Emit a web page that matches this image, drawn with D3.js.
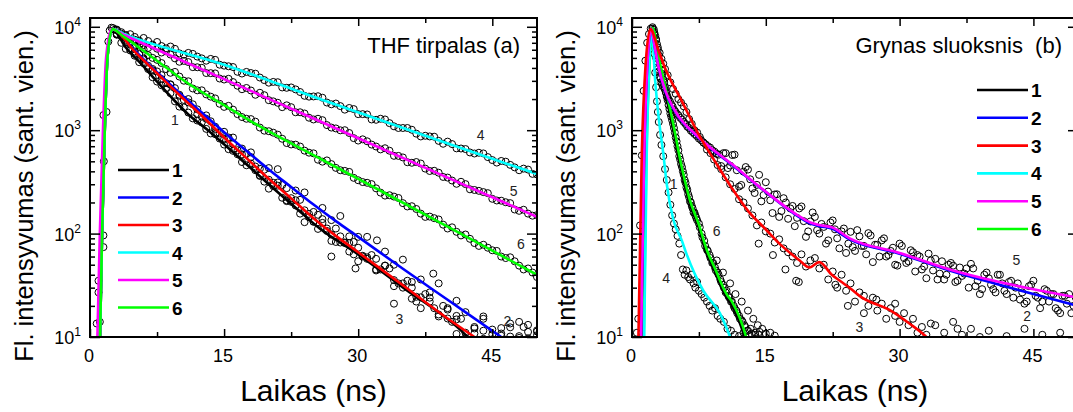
<!DOCTYPE html>
<html>
<head>
<meta charset="utf-8">
<script src="https://cdn.jsdelivr.net/npm/d3@7"></script>
<style>
body { margin: 0; background: #fff; }
svg { font-family: Arial, "Liberation Sans", sans-serif; }
</style>
</head>
<body>
<script>
// Fluorescence decay curves, two panels, log intensity vs time (ns)
var series = ["1", "2", "3", "4", "5", "6"];
var colors = ["#000000", "#0000ff", "#ff0000", "#00ffff", "#ff00ff", "#00ff00"];
var xTicks = [0, 15, 30, 45];
var xMinor = [7.5, 22.5, 37.5];
var yTicks = [10, 100, 1000, 10000];
var yExp = ["1", "2", "3", "4"];
var yMinor = [20, 30, 40, 50, 60, 70, 80, 90, 200, 300, 400, 500, 600, 700, 800, 900,
              2000, 3000, 4000, 5000, 6000, 7000, 8000, 9000];

// ---- panel (a): THF tirpalas ----
var tA = [3, 4, 5, 6, 7, 8, 9, 10, 11, 12, 13, 14, 15, 16, 17, 18, 19, 20, 21, 22, 23, 24, 25, 26,
          27, 28, 29, 30, 31, 32, 33, 34, 35, 36, 37, 38, 39, 40, 41, 42, 43, 44, 45, 46, 47, 48, 49, 50];
var tAh = [3.5, 4.5, 5.5, 6.5, 7.5, 8.5, 9.5, 10.5, 11.5, 12.5, 13.5, 14.5, 15.5, 16.5, 17.5, 18.5, 19.5,
           20.5, 21.5, 22.5, 23.5, 24.5, 25.5, 26.5, 27.5, 28.5, 29.5, 30.5, 31.5, 32.5, 33.5, 34.5, 35.5,
           36.5, 37.5, 38.5, 39.5, 40.5, 41.5, 42.5, 43.5, 44.5, 45.5, 46.5, 47.5, 48.5, 49.5];
var a1 = [8550, 6120, 5250, 4450, 3250, 2720, 2280, 1690, 1480, 1240, 1030, 915, 726, 631, 492, 476,
          361, 272, 291, 206, 187, 129, 130, 127, 85, 82, 81, 54, 59, 45, 49, 31, 30, 30, 19, 22, 16.5,
          18.4, 10.7, 11, 12.5, 9.6, 11.8, 10.3, 13.5, 9.8, 11.2, 10.4];
var a2 = [8370, 7490, 5770, 4950, 3800, 3410, 2750, 2200, 2000, 1590, 1390, 1080, 965, 849, 664, 610,
          423, 430, 420, 275, 261, 250, 162, 177, 135, 148, 94, 93, 93, 57, 67, 50, 56, 34, 36, 27, 33,
          19, 22.4, 17.4, 12.1, 15.8, 10.6, 10.8, 12.4, 10.2, 13.1, 11.3];
var a3 = [8500, 7310, 5460, 4830, 3910, 3120, 2780, 2150, 1860, 1430, 1290, 1030, 817, 736, 583, 549,
          366, 332, 312, 210, 210, 168, 131, 138, 98, 94, 67, 73, 57, 44, 49, 35.5, 33, 23.5, 24.2, 24,
          15.8, 15.1, 14.8, 9.8, 10.8, 11.5, 9.5, 12.2, 10.1, 14, 9.7, 11.6];
var a4 = [9390, 8150, 7980, 7800, 6720, 6510, 6440, 5530, 5590, 5150, 4700, 4790, 4210, 4080, 3530,
          3570, 3230, 2880, 2910, 2570, 2480, 2150, 2120, 2060, 1780, 1710, 1640, 1430, 1420, 1260, 1270,
          1090, 1050, 1010, 870, 870, 788, 775, 667, 657, 595, 596, 514, 504, 462, 410, 416, 373];
var a5 = [8460, 8340, 7500, 6660, 6600, 5640, 5390, 4590, 4560, 4060, 3570, 3540, 3090, 2920, 2490,
          2420, 2300, 1950, 1840, 1740, 1490, 1450, 1270, 1250, 1060, 997, 939, 794, 781, 695, 669, 565,
          545, 484, 476, 403, 388, 348, 303, 301, 264, 252, 217, 208, 197, 166, 156, 151];
var a6 = [9270, 7780, 6460, 6050, 5000, 4460, 3590, 3300, 2970, 2430, 2220, 2030, 1680, 1580, 1340,
          1280, 1060, 977, 905, 751, 725, 634, 597, 496, 470, 410, 395, 328, 310, 274, 233, 228, 197, 184,
          156, 146, 137, 112, 104, 98, 81, 78, 69, 60, 59, 49, 46, 38];
// half-step readings (t = 3.5 ... 49.5)
var a4h = [8580, 8480, 7350, 7280, 7130, 6190, 6120, 5370, 5470, 4950, 4890, 4300, 4150, 3670, 3660, 3520,
           3050, 2930, 2590, 2590, 2340, 2110, 2130, 1850, 1810, 1580, 1600, 1430, 1270, 1290, 1170, 1050,
           1050, 926, 883, 865, 739, 734, 665, 609, 605, 549, 486, 496, 437, 425, 378];
var a5h = [8870, 7600, 7180, 6240, 6140, 5790, 4950, 4680, 4070, 4010, 3560, 3160, 3140, 2690, 2560, 2200,
           2180, 1900, 1670, 1670, 1490, 1320, 1290, 1120, 1040, 1000, 838, 816, 726, 652, 633, 564, 490,
           492, 425, 405, 353, 326, 317, 268, 259, 246, 209, 201, 171, 170, 149];
var a6h = [8370, 7020, 6570, 5310, 4790, 3900, 3660, 3010, 2530, 2430, 2110, 1800, 1720, 1430, 1290, 1210,
           989, 946, 826, 728, 695, 606, 518, 510, 432, 404, 346, 315, 301, 249, 235, 221, 183, 173, 145,
           141, 122, 115, 96, 89, 76, 73, 68, 58, 54, 45, 42];
var a1h = [[3.5, 7000], [4.5, 5900], [5.5, 4550], [6.5, 3900], [7.5, 2950], [8.5, 2520], [9.5, 1900], [10.5, 1660],
           [11.5, 1300], [12.5, 1190], [13.5, 930], [14.5, 830], [15.5, 655], [16.5, 585], [17.5, 458], [18.5, 410],
           [19.5, 318], [20.5, 288], [21.5, 222], [22.5, 203], [23.5, 156], [24.5, 144], [25.5, 111], [26.5, 106],
           [27.5, 83], [28.5, 81], [29.5, 63], [30.5, 61]];
var a23h = [[3.5, 8100], [4.5, 6200], [5.5, 5450], [6.5, 4200], [7.5, 3700], [8.5, 2850], [9.5, 2550], [10.5, 1960],
            [11.5, 1780], [12.5, 1350], [13.5, 1220], [14.5, 930], [15.5, 850], [16.5, 640], [17.5, 590], [18.5, 445],
            [19.5, 415], [20.5, 310], [21.5, 295], [22.5, 220], [23.5, 212], [24.5, 155], [25.5, 152], [26.5, 112],
            [27.5, 112], [28.5, 82], [29.5, 83], [30.5, 60], [31.5, 62], [32.5, 45], [33.5, 46], [34.5, 33],
            [35.5, 35], [36.5, 24.5], [37.5, 26], [38.5, 19], [39.5, 20], [40.5, 14], [41.5, 15]];
var extraA = [[32.1, 86], [38.4, 41], [29.7, 46], [44, 15], [48.5, 12.5], [36.5, 22], [41, 16], [27, 60], [34, 21]];
var riseA = [[0.75, 13.5], [1.1, 14], [0.95, 27], [0.95, 35], [1.5, 74], [1.5, 96], [1.55, 500], [1.5, 1400],
             [1.85, 1500], [2.05, 7200], [2.2, 9200], [2.4, 9800], [2.6, 9700], [2.8, 9400]];

var fitA1 = [[1.1, 8], [1.35, 100], [1.65, 1000], [1.95, 5000], [2.5, 9500], [4, 6310], [5.6, 4500], [7.5, 2950],
             [9.33, 1980], [11, 1420], [13.06, 1020], [15, 730], [16.8, 530], [20.5, 275], [23, 178], [25.7, 112],
             [30, 63], [35, 30.2], [42, 10.5], [43, 8.5]];
var fitA2 = [[1.1, 8], [1.35, 100], [1.65, 1000], [1.95, 5000], [2.5, 9500], [5, 5890], [7.5, 3630], [10, 2290],
             [12.5, 1480], [15, 955], [17.5, 631], [20, 417], [22.5, 282], [25, 191], [27.5, 132], [30, 93],
             [35, 45.7], [40, 22.9], [46, 10], [47, 8.7]];
var fitA3 = [[1.1, 8], [1.35, 100], [1.65, 1000], [1.95, 5000], [2.5, 9500], [5, 5750], [7.5, 3550], [10, 2190],
             [12.5, 1380], [15, 851], [17.5, 537], [20, 339], [22.5, 219], [25, 141], [27.5, 95], [30, 66],
             [35, 31.6], [40, 15.1], [43, 10], [44, 8.7]];
var fitA4 = [[1.1, 8], [1.35, 100], [1.65, 1000], [1.95, 5000], [2.5, 9500], [4, 8400], [15, 4300], [25.7, 2000],
             [38.4, 830], [50, 377]];
var fitA5 = [[0.8, 8], [1.1, 100], [1.45, 1000], [1.8, 5000], [2.4, 9500], [4, 8180], [10, 4830], [20, 2010],
             [30, 836], [40, 348], [50, 145]];
var fitA6 = [[1.1, 8], [1.35, 100], [1.65, 1000], [1.95, 5000], [2.5, 9500], [3.73, 8090], [7, 5050], [11.2, 2750],
             [15, 1750], [18.66, 1130], [25, 574], [30, 338], [40, 117], [50, 40]];
var labelsA = [["1", 9.5, 1260], ["4", 43.7, 890], ["5", 47.4, 257], ["6", 48.2, 79], ["3", 34.6, 15], ["2", 46.7, 14.3]];

// ---- panel (b): Grynas sluoksnis ----
var b1 = [[2.5, 8800], [2.7, 7600], [2.9, 6000], [3.1, 4700], [3.3, 3800], [3.5, 3100], [3.7, 2600], [3.9, 2100],
          [4.1, 1750], [4.3, 1450], [4.5, 1250], [4.7, 1050], [4.9, 850], [5.1, 700], [5.3, 560], [5.5, 470],
          [5.7, 400], [5.9, 330], [6.1, 280], [6.3, 240], [6.5, 205], [6.7, 185], [6.9, 160], [7.1, 150], [7.3, 135],
          [7.6, 115], [7.9, 92], [8.2, 76], [8.5, 68], [8.8, 58], [9.1, 52], [9.4, 44], [9.7, 40], [10.0, 34],
          [10.3, 30], [10.6, 28], [10.9, 24], [11.2, 22], [11.5, 19], [11.8, 17], [12.1, 15], [12.4, 14],
          [12.7, 12.5], [13, 11.5], [13.4, 10.8], [13.8, 11], [14.2, 10.5], [9.5, 55], [10.2, 42], [11.0, 33],
          [11.6, 26], [12.3, 22], [13.0, 18], [13.6, 15], [14.1, 13], [14.6, 12], [15, 10.8]];
var b2 = [[2.5, 7000], [2.7, 5000], [2.9, 3900], [3.1, 3300], [3.3, 2900], [3.5, 2650], [3.8, 2300], [4.1, 2000],
          [4.4, 1780], [4.7, 1580], [5.0, 1450], [5.4, 1320], [5.8, 1200], [6.2, 1080], [6.6, 990], [7.0, 920],
          [7.5, 830], [8.0, 760], [8.5, 700], [9.0, 640], [9.5, 590],
          [10, 450], [10.5, 600], [11, 455], [11.5, 580], [12, 285], [12.5, 397], [13, 416], [13.5, 273], [14, 296],
          [14.5, 205], [15, 314], [15.5, 210], [16, 239], [16.5, 145], [17, 220], [17.5, 139], [18, 185], [18.5, 142],
          [19, 183], [19.5, 93], [20, 131], [20.5, 145], [21, 100], [21.5, 116], [22, 86], [22.5, 134], [23, 90],
          [23.5, 105], [24, 65], [24.5, 104], [25, 68], [25.5, 94], [26, 76], [26.5, 101], [27, 53], [27.5, 78],
          [28, 86], [28.5, 60], [29, 68], [29.5, 50], [30, 80], [30.5, 58], [31, 54], [31.5, 66], [32, 62], [32.5, 45],
          [33, 37], [33.5, 55], [34, 57], [34.5, 41], [35, 36], [35.5, 50], [36, 49], [36.5, 35], [37, 39], [37.5, 46],
          [38, 51], [38.5, 31], [39, 26], [39.5, 40], [40, 37], [40.5, 29], [41, 40], [41.5, 33], [42, 26], [42.5, 35],
          [43, 30], [43.5, 23], [44, 21], [44.5, 31], [45, 35], [45.5, 24], [46, 22], [46.5, 28], [47, 26], [47.5, 19],
          [48, 17], [48.5, 25], [49, 26], [49.5, 20]];
var b3 = [[2.3, 9600], [2.5, 8500], [2.7, 7400], [2.9, 6300], [3.1, 5600], [3.3, 4900], [3.5, 4400], [3.7, 3900],
          [4.0, 3400], [4.3, 2900], [4.6, 2500], [4.9, 2250], [5.2, 2000], [5.5, 1850], [5.8, 1700], [6.1, 1500],
          [6.4, 1280], [6.7, 1150], [7.0, 1000], [7.3, 950], [7.6, 860], [8.0, 760], [8.4, 650], [8.8, 600],
          [9.2, 520], [9.6, 460], [10, 420], [10.5, 350], [11, 300], [11.5, 270], [12, 215], [12.5, 200], [13, 175],
          [13.5, 150], [14, 120], [14.5, 128], [15, 105], [15.5, 100], [16, 82], [16.5, 88], [17, 72], [17.5, 66],
          [18, 60], [18.5, 52], [19, 63], [19.5, 48], [20, 55], [20.5, 58], [21, 46], [21.5, 50], [22, 36], [22.5, 43],
          [23, 30], [23.5, 40], [24, 28], [24.5, 33], [25, 22], [25.5, 27], [26, 25], [26.5, 20], [27, 24], [27.5, 18],
          [28, 21], [28.5, 15], [29, 19], [29.5, 16], [30, 14], [30.5, 17], [31, 13], [31.5, 15], [32, 11],
          [32.5, 12.5], [33, 10.5], [34, 13], [35, 11], [36, 14], [37, 10.5], [38, 12], [39, 10], [40, 11.5],
          [42, 10.2], [44, 12], [46, 10.5], [48, 11], [18.7, 34], [22.8, 32], [18.4, 35], [17.2, 45], [15.8, 62],
          [14.2, 80], [24.2, 20], [26, 17], [27.4, 23], [29.5, 21], [33.5, 13.5], [36.5, 12]];
var b4 = [[2.4, 8000], [2.5, 5500], [2.6, 3600], [2.7, 2600], [2.8, 1900], [2.9, 1500], [3.0, 1200], [3.15, 900],
          [3.3, 720], [3.5, 560], [3.7, 420], [3.9, 330], [4.1, 250], [4.3, 190], [4.5, 150], [4.7, 125], [4.9, 110],
          [5.1, 95], [5.3, 80], [5.5, 62], [5.7, 45], [5.9, 40], [6.1, 44], [6.3, 38], [6.5, 36], [6.7, 40], [6.9, 33],
          [7.1, 30], [7.3, 34], [7.5, 28], [7.8, 26], [8.1, 24], [8.4, 22], [8.7, 20], [9.0, 18], [9.3, 19],
          [9.6, 16], [9.9, 15], [10.3, 14], [10.7, 12], [11.1, 11.5], [11.5, 10.5], [12, 10.2], [12.5, 11], [13.2, 10.4]];
var b5 = [[2.6, 6200], [2.8, 4600], [3.0, 3700], [3.2, 3150], [3.4, 2800], [3.65, 2500], [3.95, 2150], [4.25, 1900],
          [4.55, 1700], [4.85, 1520], [5.2, 1400], [5.6, 1270], [6.0, 1150], [6.4, 1050], [6.8, 960], [7.25, 880],
          [7.75, 800], [8.25, 730], [8.75, 680], [9.25, 620], [9.75, 580],
          [10.25, 600], [10.75, 430], [11.25, 575], [11.75, 410], [12.25, 295], [12.75, 440], [13.25, 335],
          [13.75, 247], [14.25, 370], [14.75, 236], [15.25, 255], [15.75, 158], [16.25, 240], [16.75, 165],
          [17.25, 200], [17.75, 175], [18.25, 118], [18.75, 175], [19.25, 132], [19.75, 105], [20.25, 160],
          [20.75, 108], [21.25, 124], [21.75, 80], [22.25, 128], [22.75, 110], [23.25, 72], [23.75, 112],
          [24.25, 80], [24.75, 74], [25.25, 108], [25.75, 76], [26.25, 63], [26.75, 96], [27.25, 78], [27.75, 60],
          [28.25, 90], [28.75, 62], [29.25, 73], [29.75, 49], [30.25, 76], [30.75, 52], [31.25, 69], [31.75, 43],
          [32.25, 60], [32.75, 48], [33.25, 64], [33.75, 44], [34.25, 36], [34.75, 54], [35.25, 40], [35.75, 52],
          [36.25, 34], [36.75, 47], [37.25, 41], [37.75, 30], [38.25, 46], [38.75, 35], [39.25, 29], [39.75, 42],
          [40.25, 32], [40.75, 27], [41.25, 40], [41.75, 28], [42.25, 34], [42.75, 24], [43.25, 33], [43.75, 27],
          [44.25, 22], [44.75, 32], [45.25, 25], [45.75, 19], [46.25, 29], [46.75, 22], [47.25, 26], [47.75, 18],
          [48.25, 25], [48.75, 21], [49.25, 17], [49.75, 24]];
var b6 = [[2.6, 8200], [2.8, 6800], [3.0, 5300], [3.2, 4300], [3.4, 3500], [3.6, 2900], [3.8, 2350], [4.0, 1950],
          [4.2, 1600], [4.4, 1350], [4.6, 1150], [4.8, 950], [5.0, 780], [5.2, 640], [5.4, 520], [5.6, 440],
          [5.8, 370], [6.0, 310], [6.2, 265], [6.4, 225], [6.6, 200], [6.8, 175], [7.0, 160], [7.2, 142], [7.5, 125],
          [7.8, 100], [8.1, 85], [8.4, 70], [8.7, 62], [9.0, 52], [9.3, 47], [9.6, 42], [9.9, 36], [10.2, 32],
          [10.5, 27], [10.8, 25], [11.1, 22], [11.4, 20], [11.7, 18], [12.0, 16], [12.3, 14.5], [12.6, 13],
          [12.9, 11.5], [13.3, 12], [13.8, 10.5], [14.3, 11.2], [15.5, 11], [16, 10.3]];
var riseB = [[0.55, 11], [0.7, 15], [0.9, 120], [1.1, 570], [1.3, 2400], [1.5, 4700], [1.7, 7000], [1.9, 8500],
             [2.1, 9600], [2.3, 9900], [2.45, 9400]];

var fitB1 = [[1.25, 8], [1.55, 500], [1.85, 4000], [2.2, 9500], [2.9, 5000], [3.6, 2600], [4.4, 1250], [5.5, 420],
             [6.4, 205], [7.4, 120], [8.3, 67], [9.2, 45], [10.5, 25], [11.1, 21], [12.6, 10], [12.9, 8]];
var fitB2 = [[1.0, 8], [1.35, 500], [1.7, 4000], [2.15, 9500], [2.6, 6000], [3.0, 4000], [3.7, 2400], [4.85, 1500],
             [7.5, 840], [11.2, 463], [14.9, 256], [18.7, 145], [20, 125], [21, 118], [22.4, 112], [24.4, 88],
             [30, 64], [35.6, 44], [41.2, 32], [45, 26], [50, 20]];
var fitB3 = [[0.7, 8], [1.1, 600], [1.5, 4000], [2.05, 9500], [3.0, 5800], [3.7, 4000], [5.6, 1900], [7.5, 900],
             [9.3, 500], [11.2, 275], [13.1, 162], [14.9, 112], [16.8, 76], [18.8, 55], [19.9, 47], [21, 53],
             [22.4, 40], [23.3, 35], [24.6, 29], [25.5, 25], [29, 18], [31.1, 13.5], [33, 10], [33.5, 9]];
var fitB4 = [[1.35, 8], [1.65, 600], [1.95, 4500], [2.2, 9500], [2.6, 3000], [3.0, 1300], [3.5, 600], [3.9, 300],
             [4.6, 140], [5.6, 85], [6.1, 64], [8.0, 28], [9.85, 17], [11, 10], [11.3, 8.5]];
var fitB5 = [[1.0, 8], [1.35, 500], [1.7, 4000], [2.15, 9500], [2.6, 6000], [3.0, 4000], [3.7, 2450], [4.85, 1530],
             [7.5, 850], [11.2, 470], [14.9, 258], [18.7, 148], [20, 128], [21, 121], [22.4, 115], [24.4, 90],
             [30, 65], [35.6, 45], [41.2, 34], [45, 29], [50, 24]];
var fitB6 = [[1.3, 8], [1.6, 500], [1.95, 4000], [2.3, 9700], [3.0, 5000], [3.7, 2700], [4.5, 1300], [5.6, 430],
             [6.5, 210], [7.5, 122], [8.4, 69], [9.3, 46], [10.6, 26], [11.2, 22], [12.8, 10], [13.1, 8]];
var labelsB = [["1", 4.67, 302], ["6", 9.5, 105], ["4", 3.84, 37.6], ["5", 43.1, 55], ["2", 44.3, 16], ["3", 25.5, 12.5]];

var W = 1073, H = 412;
var yTop = 18, yBot = 337;

var svg = d3.select("body").append("svg")
    .attr("width", W)
    .attr("height", H);

function zip(ts, vs) {
    return ts.map(function (t, i) { return [t, vs[i]]; });
}

function drawPanel(p) {
    var x = d3.scaleLinear().domain([0, 50]).range([p.left, p.right]);
    var y = d3.scaleLog().domain([10, 12160]).range([yBot, yTop]);
    var g = svg.append("g");

    g.append("clipPath").attr("id", p.id)
        .append("rect")
        .attr("x", p.left).attr("y", yTop)
        .attr("width", p.right - p.left).attr("height", yBot - yTop);
    var plot = g.append("g").attr("clip-path", "url(#" + p.id + ")");

    // measured points
    p.circles.forEach(function (pts) {
        plot.append("g").selectAll("circle")
            .data(pts)
            .join("circle")
            .attr("cx", function (d) { return x(d[0]); })
            .attr("cy", function (d) { return y(d[1]); })
            .attr("r", 3.5)
            .attr("fill", "none")
            .attr("stroke", "#000")
            .attr("stroke-width", 1);
    });

    // fitted curves
    var line = d3.line()
        .x(function (d) { return x(d[0]); })
        .y(function (d) { return y(d[1]); })
        .curve(d3.curveMonotoneX);
    p.order.forEach(function (i) {
        plot.append("path")
            .attr("d", line(p.fits[i]))
            .attr("fill", "none")
            .attr("stroke", colors[i])
            .attr("stroke-width", 2.6);
    });

    // curve numbers
    g.selectAll(".clab").data(p.labels).join("text")
        .attr("x", function (d) { return x(d[1]); })
        .attr("y", function (d) { return y(d[2]) + 5; })
        .attr("text-anchor", "middle")
        .attr("font-size", 14)
        .attr("fill", "#222")
        .text(function (d) { return d[0]; });

    // ticks (inward), major and minor
    function noDomain(s) { s.select(".domain").remove(); s.selectAll("line").attr("stroke-width", 1.5); }
    g.append("g").attr("transform", "translate(0," + yBot + ")")
        .call(d3.axisBottom(x).tickValues(xTicks).tickSize(-8).tickFormat("")).call(noDomain);
    g.append("g").attr("transform", "translate(0," + yBot + ")")
        .call(d3.axisBottom(x).tickValues(xMinor).tickSize(-5).tickFormat("")).call(noDomain);
    g.append("g").attr("transform", "translate(0," + yTop + ")")
        .call(d3.axisTop(x).tickValues(xTicks).tickSize(-8).tickFormat("")).call(noDomain);
    g.append("g").attr("transform", "translate(0," + yTop + ")")
        .call(d3.axisTop(x).tickValues(xMinor).tickSize(-5).tickFormat("")).call(noDomain);
    g.append("g").attr("transform", "translate(" + p.left + ",0)")
        .call(d3.axisLeft(y).tickValues(yTicks).tickSize(-10).tickFormat("")).call(noDomain);
    g.append("g").attr("transform", "translate(" + p.left + ",0)")
        .call(d3.axisLeft(y).tickValues(yMinor).tickSize(-5).tickFormat("")).call(noDomain);
    g.append("g").attr("transform", "translate(" + p.right + ",0)")
        .call(d3.axisRight(y).tickValues(yTicks).tickSize(-10).tickFormat("")).call(noDomain);
    g.append("g").attr("transform", "translate(" + p.right + ",0)")
        .call(d3.axisRight(y).tickValues(yMinor).tickSize(-5).tickFormat("")).call(noDomain);

    // frame
    g.append("rect")
        .attr("x", p.left).attr("y", yTop)
        .attr("width", p.right - p.left).attr("height", yBot - yTop)
        .attr("fill", "none").attr("stroke", "#000").attr("stroke-width", 2);

    // tick labels
    g.selectAll(".xl").data(xTicks).join("text")
        .attr("x", function (d) { return x(d) - 1; })
        .attr("y", 362)
        .attr("text-anchor", "middle")
        .attr("font-size", 18)
        .text(function (d) { return d; });
    var yl = g.selectAll(".yl").data(yTicks).join("text")
        .attr("x", p.left - 9)
        .attr("y", function (d) { return y(d) + 7; })
        .attr("text-anchor", "end")
        .attr("font-size", 18);
    yl.append("tspan").text("10");
    yl.append("tspan").attr("dy", -8).attr("font-size", 12)
        .text(function (d, i) { return yExp[i]; });

    // axis titles
    g.append("text")
        .attr("transform", "translate(" + (p.left - 57) + "," + 196 + ") rotate(-90)")
        .attr("text-anchor", "middle")
        .attr("font-size", 25.5)
        .text("Fl. intensyvumas (sant. vien.)");
    g.append("text")
        .attr("x", (p.left + p.right) / 2)
        .attr("y", 401)
        .attr("text-anchor", "middle")
        .attr("font-size", 30)
        .text("Laikas (ns)");

    // panel title
    g.append("text")
        .attr("x", p.titleX)
        .attr("y", 53)
        .attr("text-anchor", "end")
        .attr("font-size", 22)
        .style("white-space", "pre")
        .text(p.title);

    // legend
    var leg = g.selectAll(".leg").data(series).join("g")
        .attr("transform", function (d, i) { return "translate(" + p.legX + "," + (p.legY + i * p.legGap) + ")"; });
    leg.append("line")
        .attr("x1", 0).attr("x2", 51).attr("y1", 0).attr("y2", 0)
        .attr("stroke", function (d, i) { return colors[i]; })
        .attr("stroke-width", 2.6);
    leg.append("text")
        .attr("x", 54).attr("y", 7)
        .attr("font-size", 19)
        .attr("font-weight", "bold")
        .text(function (d) { return d; });
}

drawPanel({
    id: "clipA", left: 90, right: 537,
    circles: [riseA, zip(tA, a1), zip(tA, a2), zip(tA, a3), zip(tA, a4), zip(tA, a5), zip(tA, a6),
              zip(tAh, a4h), zip(tAh, a5h), zip(tAh, a6h), a1h, a23h, extraA],
    fits: [fitA1, fitA2, fitA3, fitA4, fitA5, fitA6],
    order: [0, 1, 2, 3, 4, 5],
    labels: labelsA,
    title: "THF tirpalas (a)", titleX: 520,
    legX: 118, legY: 170, legGap: 27.5
});

drawPanel({
    id: "clipB", left: 632, right: 1078,
    circles: [riseB, b1, b2, b3, b4, b5, b6],
    fits: [fitB1, fitB2, fitB3, fitB4, fitB5, fitB6],
    order: [0, 5, 3, 1, 4, 2],
    labels: labelsB,
    title: "Grynas sluoksnis  (b)", titleX: 1062,
    legX: 977, legY: 90, legGap: 27.8
});
</script>
</body>
</html>
